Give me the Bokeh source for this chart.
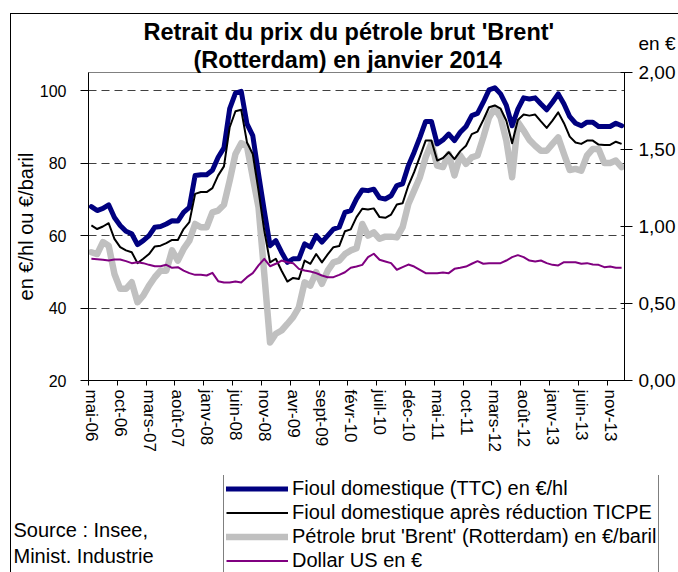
from bokeh.plotting import figure
from bokeh.models import (Range1d, LinearAxis, FixedTicker, CustomJSTickFormatter,
                          Label, Legend, LegendItem, Title)
from bokeh.layouts import column
from bokeh.embed import file_html
from bokeh.resources import INLINE

# ---------------- data (monthly, mai 2006 -> janv 2014) ----------------
tick_labels = ["mai-06", "oct-06", "mars-07", "août-07", "janv-08", "juin-08", "nov-08",
               "avr-09", "sept-09", "févr-10", "juil-10", "déc-10", "mai-11", "oct-11",
               "mars-12", "août-12", "janv-13", "juin-13", "nov-13"]

fioul_ttc = [68.0, 66.9, 67.5, 68.5, 65.0, 62.8, 61.2, 60.5, 57.5, 58.6,
             60.0, 62.3, 62.5, 63.2, 64.1, 64.0, 66.4, 67.8, 76.6, 76.8,
             76.8, 78.0, 81.6, 84.2, 95.0, 99.3, 99.8, 90.8, 87.6, 77.0,
             66.9, 57.2, 58.6, 55.4, 52.6, 53.6, 53.6, 57.7, 56.8, 60.0,
             58.2, 60.0, 61.8, 62.3, 66.4, 66.9, 70.1, 72.6, 72.4, 72.8,
             70.4, 70.1, 71.0, 73.8, 74.3, 79.3, 83.0, 87.1, 91.5, 91.5,
             85.3, 86.4, 88.0, 86.2, 88.5, 90.1, 93.1, 93.7, 96.8, 100.2,
             100.8, 99.1, 95.9, 90.3, 94.9, 98.0, 97.7, 98.0, 96.3, 94.7,
             96.8, 99.1, 96.3, 92.8, 91.0, 90.3, 91.3, 91.3, 90.1, 90.1,
             90.1, 91.0, 90.3]

fioul_reduit = [62.8, 61.8, 62.5, 63.4, 59.1, 56.8, 55.9, 55.4, 52.4, 53.6,
                54.9, 57.0, 57.2, 57.9, 58.8, 58.8, 61.8, 63.7, 71.5, 72.0,
                72.0, 73.1, 76.6, 79.1, 89.9, 94.3, 94.7, 85.7, 82.5, 72.4,
                61.4, 52.6, 53.6, 50.3, 47.3, 48.3, 48.0, 53.1, 52.2, 54.9,
                52.6, 54.8, 56.8, 57.1, 61.2, 61.7, 65.1, 67.4, 67.2, 67.5,
                65.1, 64.9, 65.8, 68.6, 68.9, 73.8, 77.5, 81.8, 86.2, 86.2,
                80.7, 81.4, 83.0, 81.1, 83.3, 84.8, 88.0, 88.7, 91.9, 95.4,
                95.9, 95.0, 91.7, 85.5, 91.9, 93.4, 93.1, 93.4, 91.5, 89.7,
                91.7, 94.0, 91.0, 87.3, 85.7, 85.3, 86.2, 86.2, 85.1, 85.0,
                85.0, 85.9, 85.3]

brent = [55.4, 54.9, 58.2, 57.2, 49.4, 45.3, 45.3, 47.1, 41.6, 43.4,
         46.2, 48.5, 50.3, 50.3, 55.9, 53.1, 56.3, 58.6, 63.2, 62.3,
         62.3, 66.4, 66.9, 68.5, 75.2, 82.5, 85.5, 84.6, 76.1, 67.8,
         49.4, 30.5, 32.9, 33.8, 35.6, 37.5, 40.2, 47.1, 46.2, 49.9,
         46.7, 50.3, 52.6, 53.1, 54.9, 55.9, 56.5, 63.2, 60.0, 60.9,
         59.1, 59.7, 59.7, 59.5, 62.3, 68.7, 72.4, 76.1, 81.6, 85.5,
         79.3, 78.9, 82.5, 76.6, 82.1, 79.8, 81.6, 82.1, 87.1, 92.6,
         95.2, 92.6, 86.2, 76.1, 91.3, 89.0, 86.4, 84.8, 83.4, 83.4,
         85.3, 87.1, 82.5, 78.1, 78.4, 77.9, 82.1, 83.9, 83.9, 80.0,
         80.0, 80.7, 78.9]

dollar = [0.790, 0.788, 0.784, 0.779, 0.786, 0.786, 0.775, 0.762, 0.768, 0.762,
          0.751, 0.742, 0.742, 0.751, 0.732, 0.736, 0.714, 0.697, 0.686, 0.686,
          0.682, 0.699, 0.645, 0.636, 0.636, 0.643, 0.636, 0.671, 0.697, 0.747,
          0.790, 0.742, 0.758, 0.779, 0.768, 0.762, 0.725, 0.714, 0.708, 0.697,
          0.682, 0.671, 0.671, 0.686, 0.703, 0.732, 0.740, 0.751, 0.801, 0.823,
          0.784, 0.773, 0.762, 0.719, 0.736, 0.753, 0.740, 0.719, 0.697, 0.697,
          0.697, 0.701, 0.697, 0.725, 0.732, 0.740, 0.758, 0.775, 0.758, 0.762,
          0.762, 0.762, 0.779, 0.801, 0.814, 0.801, 0.779, 0.773, 0.779, 0.762,
          0.751, 0.747, 0.768, 0.768, 0.768, 0.758, 0.762, 0.753, 0.751, 0.736,
          0.740, 0.732, 0.732]

legend_labels = ["Fioul domestique (TTC) en €/hl",
                 "Fioul domestique après réduction TICPE",
                 "Pétrole brut 'Brent' (Rotterdam) en €/baril",
                 "Dollar US en €"]
title_lines = ["Retrait du prix du pétrole brut 'Brent'", "(Rotterdam) en janvier 2014"]
source_lines = ["Source : Insee,", "Minist. Industrie"]

n = len(fioul_ttc)
xs = [i + 0.5 for i in range(n)]

FONT = "Liberation Sans"
W = 667
H_MAIN = 461
H_LEG = 97

# ---------------- main chart ----------------
p = figure(width=W, height=H_MAIN, title=None,
           x_range=Range1d(0, n), y_range=Range1d(20, 105),
           output_backend="svg", toolbar_location=None,
           min_border_left=74, min_border_right=54,
           min_border_top=58, min_border_bottom=95,
           background_fill_color="white", border_fill_color="white")
p.frame_align = False
p.outline_line_color = "#808080"
p.outline_line_width = 1
p.extra_y_ranges = {"usd": Range1d(0, 2.0)}

# two title lines (second line added first: it sits nearer the frame)
for txt, off in reversed(list(zip(title_lines, [55, 105]))):
    p.add_layout(Title(text=txt, align="left", offset=off, standoff=0,
                       text_font=FONT, text_font_size="23.5px", text_font_style="bold",
                       text_color="black"), "above")

# grid
p.xgrid.visible = False
p.ygrid.ticker = FixedTicker(ticks=[40, 60, 80, 100])
p.ygrid.grid_line_color = "#404040"
p.ygrid.grid_line_dash = "8 5"
p.ygrid.grid_line_width = 1

# x axis
xax = p.xaxis[0]
xax.ticker = FixedTicker(ticks=[5 * k + 0.5 for k in range(len(tick_labels))],
                         minor_ticks=[5 * k for k in range(len(tick_labels))])
xax.formatter = CustomJSTickFormatter(args=dict(labels=tick_labels),
                                      code="return labels[Math.round((tick - 0.5) / 5)];")
xax.major_label_orientation = "vertical"
xax.major_tick_out = 0
xax.major_tick_in = 0
xax.minor_tick_out = 5
xax.minor_tick_in = 0
xax.minor_tick_line_color = "black"
xax.axis_line_color = "black"
xax.major_label_text_font = FONT
xax.major_label_text_font_size = "17px"
xax.major_label_text_color = "black"
xax.major_label_standoff = 4

# left axis
yax = p.yaxis[0]
yax.ticker = FixedTicker(ticks=[20, 40, 60, 80, 100])
yax.major_tick_out = 8
yax.major_tick_in = 0
yax.minor_tick_out = 0
yax.minor_tick_in = 0
yax.axis_line_color = "black"
yax.major_tick_line_color = "black"
yax.major_label_text_font = FONT
yax.major_label_text_font_size = "16px"
yax.major_label_text_color = "black"
yax.major_label_standoff = 14
yax.axis_label = "en €/hl ou €/baril"
yax.axis_label_text_font = FONT
yax.axis_label_text_font_size = "20px"
yax.axis_label_text_font_style = "normal"
yax.axis_label_text_color = "black"
yax.axis_label_standoff = 0

# right axis (the top label also carries the unit "en €")
rax = LinearAxis(y_range_name="usd",
                 ticker=FixedTicker(ticks=[0, 0.5, 1.0, 1.5, 2.0]),
                 formatter=CustomJSTickFormatter(code="""
                     const s = tick.toFixed(2).replace('.', ',');
                     return tick > 1.99 ? 'en €\\n' + s + '\\n ' : s;"""))
rax.major_tick_out = 8
rax.major_tick_in = 4
rax.minor_tick_out = 0
rax.minor_tick_in = 0
rax.axis_line_color = "black"
rax.major_label_text_font = FONT
rax.major_label_text_font_size = "19px"
rax.major_label_text_color = "black"
rax.major_label_text_line_height = 1.4
rax.major_label_standoff = 6
p.add_layout(rax, "right")

# series
p.line(xs, brent, line_color="#C0C0C0", line_width=6.5, line_join="round", line_cap="round")
p.line(xs, fioul_ttc, line_color="#000080", line_width=5, line_join="round", line_cap="round")
p.line(xs, fioul_reduit, line_color="black", line_width=2, line_join="round")
p.line(xs, dollar, line_color="#800080", line_width=2, line_join="round", y_range_name="usd")

# ---------------- legend + source strip ----------------
q = figure(width=W, height=H_LEG, x_range=Range1d(0, W), y_range=Range1d(0, H_LEG),
           output_backend="svg", toolbar_location=None, min_border=0,
           x_axis_location=None, y_axis_location=None,
           background_fill_color="white", border_fill_color="white")
q.frame_align = False
q.grid.visible = False
q.outline_line_color = None

styles = [dict(line_color="#000080", line_width=5, line_cap="round"),
          dict(line_color="black", line_width=2),
          dict(line_color="#C0C0C0", line_width=6.5, line_cap="round"),
          dict(line_color="#800080", line_width=2)]
nan = float("nan")
items = []
for lab, st in zip(legend_labels, styles):
    r = q.line(x=[nan], y=[nan], **st)   # legend proxy, draws nothing in the strip
    items.append(LegendItem(label=lab, renderers=[r]))

legend = Legend(items=items, location=(212, -3))
legend.label_text_font = FONT
legend.label_text_font_size = "20px"
legend.label_text_color = "black"
legend.glyph_width = 62
legend.glyph_height = 23
legend.label_height = 23
legend.label_standoff = 4
legend.spacing = 1
legend.padding = 2
legend.margin = 0
legend.border_line_color = "black"
legend.border_line_width = 1
legend.background_fill_color = "white"
legend.background_fill_alpha = 1
q.add_layout(legend, "center")

for txt, yy in zip(source_lines, [43, 17]):
    q.add_layout(Label(x=2, y=yy, text=txt, text_align="left", text_baseline="middle",
                       text_font=FONT, text_font_size="20px", text_color="black"))

layout = column(p, q, spacing=0,
                styles={"margin-left": "10px", "margin-top": "13px",
                        "border-left": "1px solid black", "border-top": "1px solid black"})

open("out.html", "w").write(file_html(layout, INLINE))
